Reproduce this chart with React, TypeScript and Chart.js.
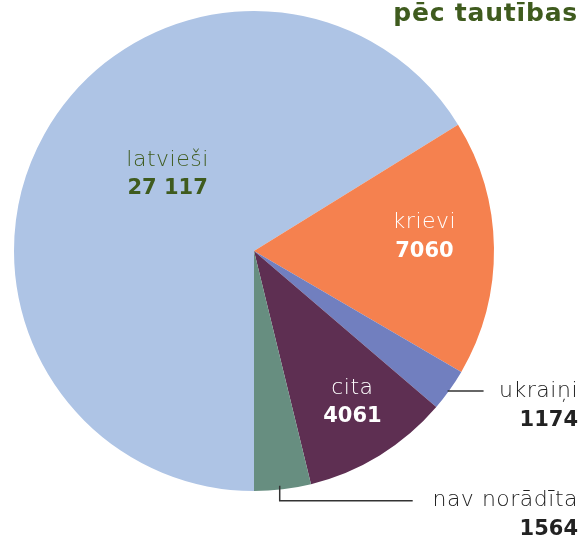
import React, { useEffect, useRef } from "react";
import { Chart, registerables } from "chart.js";

Chart.register(...registerables);

const categories = ["latvieši", "krievi", "ukraiņi", "cita", "nav norādīta"];
const values = [27117, 7060, 1174, 4061, 1564];
const valueLabels = ["27 117", "7060", "1174", "4061", "1564"];
const colors = ["#aec4e5", "#f5814f", "#717fbf", "#5e2f52", "#678e80"];
const title = "pēc tautības";

const FONT = "'DejaVu Sans', sans-serif";

const labelPlugin = {
  id: "customLabels",
  afterDraw(chart: any) {
    const ctx = chart.ctx as any;
    const meta = chart.getDatasetMeta(0);
    const a0 = meta.data[0];
    const cx = a0.x;
    const cy = a0.y;
    const r = a0.outerRadius;
    const W = chart.width;
    ctx.save();

    // title
    ctx.fillStyle = "#3f5b1e";
    ctx.font = `bold 25px ${FONT}`;
    ctx.letterSpacing = "0.8px";
    ctx.textAlign = "right";
    ctx.textBaseline = "alphabetic";
    ctx.fillText(title, W - 4, 21);

    const drawPair = (
      i: number,
      x: number,
      y: number,
      align: CanvasTextAlign,
      nameColor: string,
      valColor: string
    ) => {
      ctx.textAlign = align;
      ctx.textBaseline = "middle";
      ctx.fillStyle = nameColor;
      ctx.font = `300 22px ${FONT}`;
      ctx.letterSpacing = "0.5px";
      ctx.fillText(categories[i], x, y);
      ctx.fillStyle = valColor;
      ctx.font = `bold 21px ${FONT}`;
      ctx.letterSpacing = "0px";
      ctx.fillText(valueLabels[i], x, y + 29);
    };

    // inside labels (relative to center / radius)
    drawPair(0, cx - 0.36 * r, cy - 0.38 * r, "center", "#3f5b1e", "#3f5b1e");
    drawPair(1, cx + 0.71 * r, cy - 0.12 * r, "center", "#ffffff", "#ffffff");
    drawPair(3, cx + 0.41 * r, cy + 0.57 * r, "center", "#ffffff", "#ffffff");

    // leader lines
    ctx.strokeStyle = "#333333";
    ctx.lineWidth = 1.5;
    const mid = (el: any) => (el.startAngle + el.endAngle) / 2;

    const u = meta.data[2];
    const mu = mid(u);
    const ux = cx + r * Math.cos(mu) - 2;
    const uy = cy + r * Math.sin(mu) + 1;
    ctx.beginPath();
    ctx.moveTo(ux, uy);
    ctx.lineTo(ux + 36, uy);
    ctx.stroke();
    drawPair(2, W - 4, uy, "right", "#222222", "#222222");

    const n = meta.data[4];
    const mn = mid(n);
    const nx = cx + r * Math.cos(mn) - 3;
    const ny = cy + 0.985 * r * Math.sin(mn);
    const ly = ny + 15;
    ctx.beginPath();
    ctx.moveTo(nx, ny);
    ctx.lineTo(nx, ly);
    ctx.lineTo(nx + 133, ly);
    ctx.stroke();
    drawPair(4, W - 4, ly, "right", "#222222", "#222222");

    ctx.restore();
  },
};

export default function App() {
  const ref = useRef<HTMLCanvasElement>(null);
  useEffect(() => {
    if (!ref.current) return;
    const chart = new Chart(ref.current, {
      type: "pie",
      data: {
        labels: categories,
        datasets: [
          {
            data: values,
            backgroundColor: colors,
            borderWidth: 0,
          },
        ],
      },
      options: {
        animation: false,
        responsive: true,
        maintainAspectRatio: false,
        rotation: 180,
        layout: { padding: { left: 14, right: 88, top: 11, bottom: 50 } },
        plugins: {
          legend: { display: false },
          tooltip: { enabled: false },
          title: { display: false },
        },
      },
      plugins: [labelPlugin],
    });
    return () => chart.destroy();
  }, []);
  return (
    <div
      style={{
        position: "fixed",
        left: 0,
        top: 0,
        width: 582,
        height: 541,
        background: "#ffffff",
      }}
    >
      <canvas ref={ref} />
    </div>
  );
}
